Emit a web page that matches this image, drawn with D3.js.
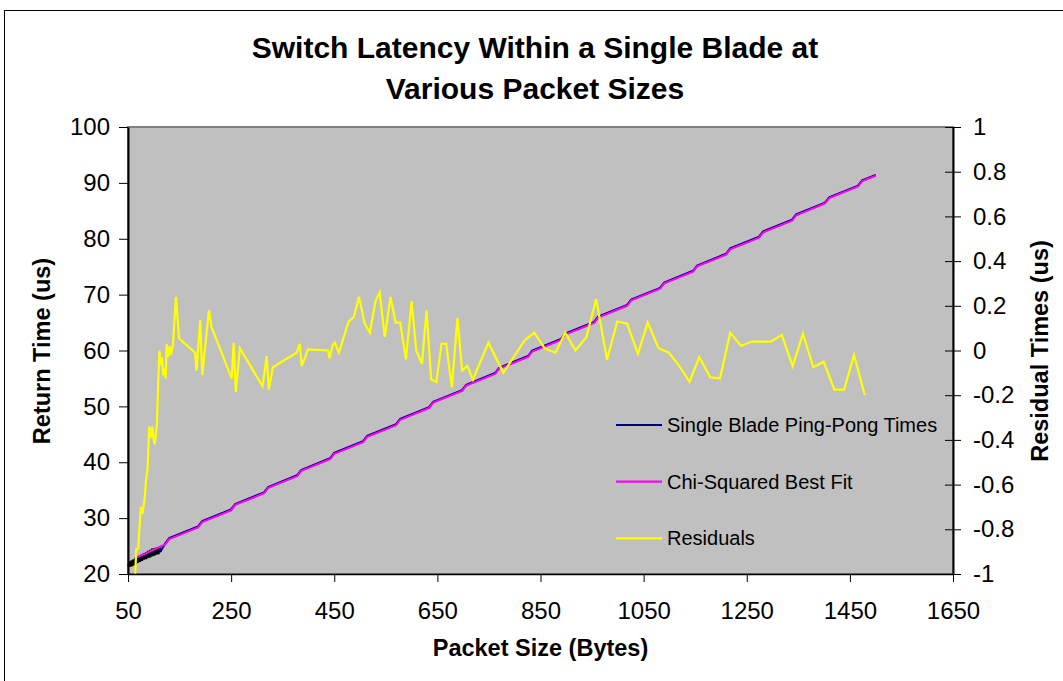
<!DOCTYPE html>
<html lang="en">
<head>
<meta charset="UTF-8">
<title>Switch Latency Within a Single Blade</title>
<script src="https://d3js.org/d3.v7.min.js"></script>
<style>
    body { margin: 0; background: #fff; }
    svg { display: block; font-family: "Liberation Sans", Arial, sans-serif; }
    .axis text { font-size: 24px; fill: #000; }
    .axis path, .axis line { stroke: #000; }
</style>
</head>
<body>
<div id="chart"></div>
<script>
// packet sizes (bytes) and return times (us)
const pingSizes = [52, 54, 56, 58, 60, 62, 64, 66, 68, 70, 72, 74, 76, 78, 80, 82, 84, 86, 88, 90,
    92, 94, 96, 98, 100, 102, 104, 106, 108, 110, 112,
    122, 130, 186, 194, 250, 258, 314, 322, 378, 386, 442, 450, 506, 514, 570, 578, 634, 642,
    698, 706, 762, 770, 826, 834, 890, 898, 954, 962, 1018, 1026, 1082, 1090, 1146, 1154,
    1210, 1218, 1274, 1282, 1338, 1346, 1402, 1410, 1466, 1474, 1500];
const pingTimes = [21.3, 22.2, 21.4, 22.4, 21.6, 22.6, 21.8, 22.9, 22.0, 23.1, 22.2, 23.3, 22.4, 23.5, 22.6, 23.7,
    22.7, 23.9, 22.9, 24.1, 23.0, 24.3, 23.2, 24.5, 23.3, 24.6, 23.5, 24.7, 23.6, 24.8, 23.9,
    25.45, 26.4, 28.5, 29.45, 31.55, 32.5, 34.6, 35.55, 37.65, 38.6, 40.7, 41.65, 43.75, 44.7,
    46.8, 47.75, 49.85, 50.8, 52.9, 53.85, 55.95, 56.9, 59.0, 59.95, 62.05, 63.0, 65.1, 66.05,
    68.15, 69.1, 71.2, 72.15, 74.25, 75.2, 77.3, 78.25, 80.35, 81.3, 83.4, 84.35, 86.45, 87.4,
    89.5, 90.45, 91.4];
// the first 31 points (small packets) are so dense they render as a black wedge
const denseCount = 31;

const fitSizes = [63, 122, 130, 186, 194, 250, 258, 314, 322, 378, 386, 442, 450, 506, 514, 570, 578,
    634, 642, 698, 706, 762, 770, 826, 834, 890, 898, 954, 962, 1018, 1026, 1082, 1090,
    1146, 1154, 1210, 1218, 1274, 1282, 1338, 1346, 1402, 1410, 1466, 1474, 1500];
const fitTimes = [22.8, 25.3, 26.26, 28.35, 29.31, 31.4, 32.36, 34.45, 35.41, 37.5, 38.46, 40.55, 41.51,
    43.6, 44.56, 46.65, 47.61, 49.7, 50.66, 52.75, 53.71, 55.8, 56.76, 58.85, 59.81, 61.9, 62.86,
    64.95, 65.91, 68.0, 68.96, 71.05, 72.01, 74.1, 75.06, 77.15, 78.11, 80.2, 81.16, 83.25, 84.21,
    86.3, 87.26, 89.35, 90.31, 91.27];

const residSizes = [64, 66, 70, 72, 75, 78, 82, 85, 88, 91, 95, 97, 100, 102, 106, 109, 111, 114, 116, 118,
    120, 123, 125, 128, 131, 133, 137, 143, 149, 180, 183, 190, 194, 207, 212, 251, 255, 259, 267, 311,
    319, 323, 331, 377, 383, 387, 399, 438, 441, 447, 451, 459, 478, 488, 498, 509, 519, 530, 538, 548,
    559, 569, 578, 589, 600, 609, 620, 629, 638, 648, 658, 667, 678, 689, 698, 708, 719, 749, 778, 819,
    838, 858, 879, 898, 918, 939, 958, 979, 999, 1018, 1039, 1058, 1079, 1099, 1118, 1139, 1158, 1179,
    1198, 1218, 1239, 1260, 1297, 1318, 1339, 1359, 1379, 1399, 1420, 1439, 1458, 1479];
const residValues = [-1.0, -0.89, -0.885, -0.8, -0.7, -0.73, -0.67, -0.58, -0.53, -0.34,
    -0.39, -0.34, -0.4, -0.42, -0.33, -0.12, 0.0, -0.065, -0.03, -0.11,
    -0.08, -0.125, 0.03, -0.03, 0.02, -0.02, 0.02, 0.24, 0.055, -0.01,
    -0.09, 0.135, -0.11, 0.18, 0.105, -0.125, 0.035, -0.185, 0.01, -0.16,
    -0.025, -0.175, -0.075, -0.01, 0.03, -0.07, 0.005, 0.0, -0.035, 0.025,
    0.035, -0.01, 0.13, 0.15, 0.24, 0.12, 0.08, 0.22, 0.26, 0.06,
    0.24, 0.125, 0.125, -0.04, 0.22, 0.0, -0.06, 0.18, -0.13, -0.14,
    0.03, 0.03, -0.165, 0.145, -0.09, -0.07, -0.13, 0.035, -0.1, 0.045,
    0.08, 0.01, -0.01, 0.08, 0.0, 0.06, 0.23, -0.04, 0.13, 0.12,
    -0.015, 0.125, 0.01, -0.01, -0.065, -0.14, -0.03, -0.12, -0.125, 0.08,
    0.02, 0.04, 0.04, 0.07, -0.07, 0.075, -0.075, -0.05, -0.175, -0.175,
    -0.02, -0.2];

const xTicks = [50, 250, 450, 650, 850, 1050, 1250, 1450, 1650];
const leftTicks = [20, 30, 40, 50, 60, 70, 80, 90, 100];
const rightTicks = [-1, -0.8, -0.6, -0.4, -0.2, 0, 0.2, 0.4, 0.6, 0.8, 1];

const seriesNames = ["Single Blade Ping-Pong Times", "Chi-Squared Best Fit", "Residuals"];
const seriesColors = ["#000080", "#FF00FF", "#FFFF00"];

const W = 1063, H = 681;
const plot = { left: 128, right: 953, top: 127, bottom: 574 };

const svg = d3.select("#chart").append("svg")
    .attr("width", W)
    .attr("height", H);

// outer chart frame
svg.append("rect")
    .attr("x", 4.5).attr("y", 10.5)
    .attr("width", 1080).attr("height", 700)
    .attr("fill", "#fff")
    .attr("stroke", "#000");

const x = d3.scaleLinear().domain([50, 1650]).range([plot.left, plot.right]);
const yL = d3.scaleLinear().domain([20, 100]).range([plot.bottom, plot.top]);
const yR = d3.scaleLinear().domain([-1, 1]).range([plot.bottom, plot.top]);

// plot area
svg.append("rect")
    .attr("x", plot.left).attr("y", plot.top)
    .attr("width", plot.right - plot.left)
    .attr("height", plot.bottom - plot.top)
    .attr("fill", "#C0C0C0")
    .attr("stroke", "#808080")
    .attr("stroke-width", 2);

// series
const pingPts = pingSizes.map((s, i) => [s, pingTimes[i]]);
const fitPts = fitSizes.map((s, i) => [s, fitTimes[i]]);
const residPts = residSizes.map((s, i) => [s, residValues[i]]);

const lineL = d3.line().x(d => x(d[0])).y(d => yL(d[1]));
const lineR = d3.line().x(d => x(d[0])).y(d => yR(d[1]));

svg.append("path")
    .datum(pingPts.slice(0, denseCount))
    .attr("d", lineL)
    .attr("fill", "none")
    .attr("stroke", "#000010")
    .attr("stroke-width", 3.5);

svg.append("path")
    .datum(pingPts.slice(denseCount - 1))
    .attr("d", lineL)
    .attr("fill", "none")
    .attr("stroke", seriesColors[0])
    .attr("stroke-width", 2.2);

svg.append("path")
    .datum(fitPts)
    .attr("d", lineL)
    .attr("fill", "none")
    .attr("stroke", seriesColors[1])
    .attr("stroke-width", 2);

svg.append("path")
    .datum(residPts)
    .attr("d", lineR)
    .attr("fill", "none")
    .attr("stroke", seriesColors[2])
    .attr("stroke-width", 2.2);

// axes
svg.append("g")
    .attr("class", "axis")
    .attr("transform", `translate(0,${plot.bottom})`)
    .call(d3.axisBottom(x).tickValues(xTicks).tickSizeInner(8).tickSizeOuter(0).tickPadding(20).tickFormat(d3.format("d")))
    .call(g => g.select(".domain").attr("stroke-width", 1.5));

svg.append("g")
    .attr("class", "axis")
    .attr("transform", `translate(${plot.left},0)`)
    .call(d3.axisLeft(yL).tickValues(leftTicks).tickSizeInner(9).tickSizeOuter(0).tickPadding(9))
    .call(g => g.select(".domain").attr("stroke-width", 2));

svg.append("g")
    .attr("class", "axis")
    .attr("transform", `translate(${plot.right},0)`)
    .call(d3.axisRight(yR).tickValues(rightTicks).tickSizeInner(8).tickSizeOuter(0).tickPadding(12)
        .tickFormat(d => String(+d.toFixed(1))))
    .call(g => g.select(".domain").attr("stroke", "#333").attr("stroke-width", 2))
    .call(g => g.selectAll(".tick line").attr("x1", -8));

// titles
const title = svg.append("text")
    .attr("x", 535)
    .attr("text-anchor", "middle")
    .attr("font-size", 30)
    .attr("font-weight", "bold");
title.append("tspan").attr("x", 535).attr("y", 58).text("Switch Latency Within a Single Blade at");
title.append("tspan").attr("x", 535).attr("y", 99).text("Various Packet Sizes");

svg.append("text")
    .attr("x", (plot.left + plot.right) / 2)
    .attr("y", 656)
    .attr("text-anchor", "middle")
    .attr("font-size", 23.5)
    .attr("font-weight", "bold")
    .text("Packet Size (Bytes)");

svg.append("text")
    .attr("transform", "translate(50,351) rotate(-90)")
    .attr("text-anchor", "middle")
    .attr("font-size", 23.5)
    .attr("font-weight", "bold")
    .text("Return Time (us)");

svg.append("text")
    .attr("transform", "translate(1048,351) rotate(-90)")
    .attr("text-anchor", "middle")
    .attr("font-size", 23.5)
    .attr("font-weight", "bold")
    .text("Residual Times (us)");

// legend
const legend = svg.append("g").attr("transform", "translate(616,425)");
seriesNames.forEach((name, i) => {
    const row = legend.append("g").attr("transform", `translate(0,${i * 56.7})`);
    row.append("line")
        .attr("x1", 0).attr("x2", 46)
        .attr("stroke", seriesColors[i])
        .attr("stroke-width", 2.2);
    row.append("text")
        .attr("x", 51)
        .attr("y", 7)
        .attr("font-size", 20)
        .text(name);
});
</script>
</body>
</html>
